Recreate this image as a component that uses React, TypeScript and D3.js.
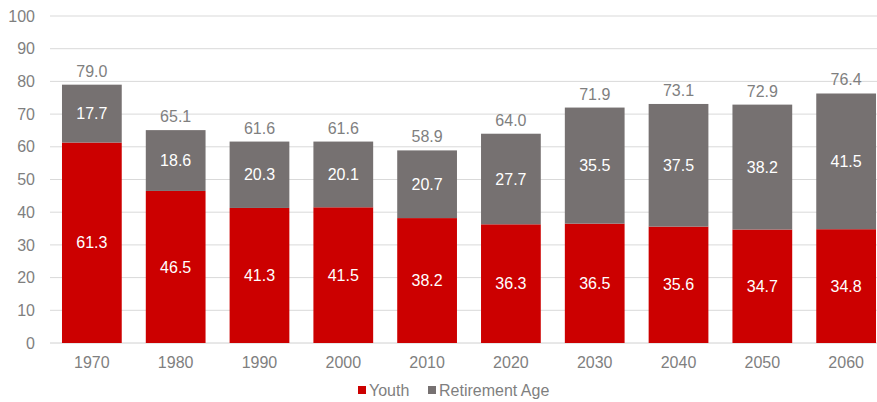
import React from "react";
import * as d3 from "d3";

const years = ["1970", "1980", "1990", "2000", "2010", "2020", "2030", "2040", "2050", "2060"];
const youth = [61.3, 46.5, 41.3, 41.5, 38.2, 36.3, 36.5, 35.6, 34.7, 34.8];
const retirement = [17.7, 18.6, 20.3, 20.1, 20.7, 27.7, 35.5, 37.5, 38.2, 41.5];
const totals = [79.0, 65.1, 61.6, 61.6, 58.9, 64.0, 71.9, 73.1, 72.9, 76.4];
const yTicks = [0, 10, 20, 30, 40, 50, 60, 70, 80, 90, 100];

const W = 877;
const H = 402;
const RED = "#CC0000";
const GRAY = "#767171";
const TEXT = "#7F7F7F";
const FONT = "'Liberation Sans', Arial, sans-serif";
const FS = 16;

export default function App() {
  const x = d3.scaleBand<string>().domain(years).range([50, 888]).paddingInner(0.287).paddingOuter(0.143);
  const y = d3.scaleLinear().domain([0, 100]).range([343, 16]);
  const bw = x.bandwidth();
  return (
    <svg width={W} height={H} style={{ position: "absolute", left: 0, top: 0, fontFamily: FONT }}>
      <rect width={W} height={H} fill="#fff" />
      {yTicks.map((t) => (
        <g key={t}>
          <line x1={50} x2={W} y1={y(t)} y2={y(t)} stroke={t === 0 ? "#D0D0D0" : "#D9D9D9"} strokeWidth={1} />
          <text x={35} y={y(t)} dy="0.35em" textAnchor="end" fontSize={FS} fill={TEXT}>{t}</text>
        </g>
      ))}
      {years.map((yr, i) => {
        const x0 = x(yr)!;
        const cx = x0 + bw / 2;
        const yt = youth[i];
        const rt = retirement[i];
        return (
          <g key={yr}>
            <rect x={x0} width={bw} y={y(yt)} height={y(0) - y(yt)} fill={RED} />
            <rect x={x0} width={bw} y={y(yt + rt)} height={y(yt) - y(yt + rt)} fill={GRAY} />
            <text x={cx} y={y(yt / 2)} dy="0.35em" textAnchor="middle" fontSize={FS} fill="#fff">{yt.toFixed(1)}</text>
            <text x={cx} y={y(yt + rt / 2)} dy="0.35em" textAnchor="middle" fontSize={FS} fill="#fff">{rt.toFixed(1)}</text>
            <text x={cx} y={y(yt + rt) - 8} textAnchor="middle" fontSize={FS} fill={TEXT}>{totals[i].toFixed(1)}</text>
            <text x={cx} y={368} textAnchor="middle" fontSize={FS} fill={TEXT}>{yr}</text>
          </g>
        );
      })}
      <g>
        <rect x={358} y={386} width={8} height={8} fill={RED} />
        <text x={369} y={396} fontSize={FS} fill={TEXT}>Youth</text>
        <rect x={428} y={386} width={8} height={8} fill={GRAY} />
        <text x={439} y={396} fontSize={FS} fill={TEXT}>Retirement Age</text>
      </g>
    </svg>
  );
}
